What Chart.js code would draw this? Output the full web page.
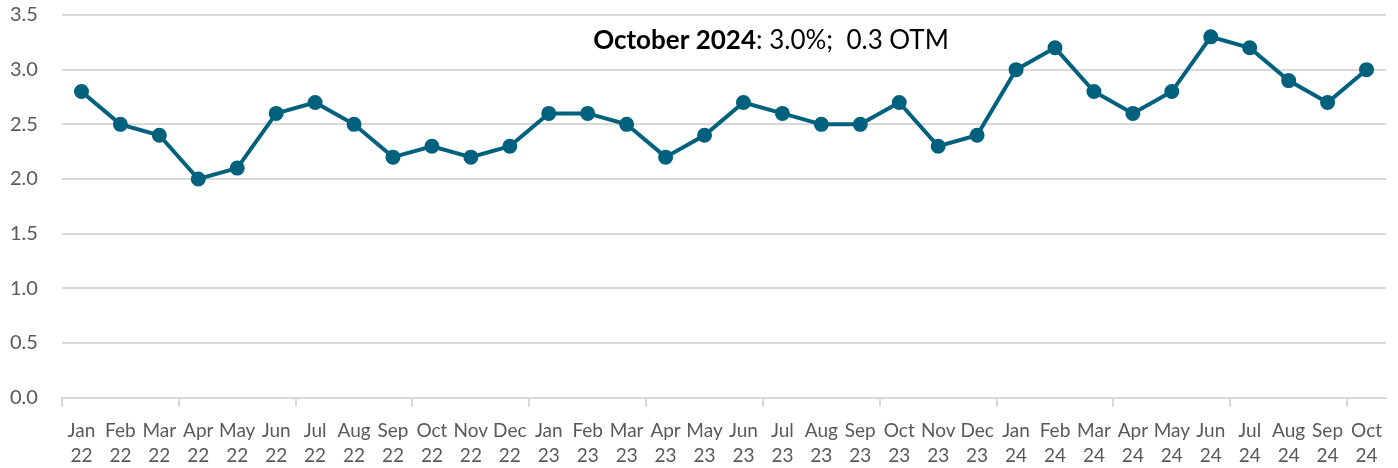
<!DOCTYPE html>
<html>
<head>
<meta charset="utf-8">
<script src="https://cdn.jsdelivr.net/npm/chart.js@4"></script>
<style>
  html, body { margin: 0; padding: 0; background: #fff; overflow: hidden; }
  #wrap { width: 1398px; height: 480px; position: relative; }
</style>
</head>
<body>
<div id="wrap"><canvas id="chart"></canvas></div>
<script>
// monthly values, Jan 2022 - Oct 2024
const months = ['Jan','Feb','Mar','Apr','May','Jun','Jul','Aug','Sep','Oct','Nov','Dec',
                'Jan','Feb','Mar','Apr','May','Jun','Jul','Aug','Sep','Oct','Nov','Dec',
                'Jan','Feb','Mar','Apr','May','Jun','Jul','Aug','Sep','Oct'];
const years = ['22','22','22','22','22','22','22','22','22','22','22','22',
               '23','23','23','23','23','23','23','23','23','23','23','23',
               '24','24','24','24','24','24','24','24','24','24'];
const rates = [2.8, 2.5, 2.4, 2.0, 2.1, 2.6, 2.7, 2.5, 2.2, 2.3, 2.2, 2.3,
               2.6, 2.6, 2.5, 2.2, 2.4, 2.7, 2.6, 2.5, 2.5, 2.7, 2.3, 2.4,
               3.0, 3.2, 2.8, 2.6, 2.8, 3.3, 3.2, 2.9, 2.7, 3.0];
const noteBold = 'October 2024';
const noteRest = ': 3.0%;  0.3 OTM';

const labels = months.map((m, i) => [m, years[i]]);

// annotation text at top of the plot
const notePlugin = {
  id: 'note',
  afterDraw(chart) {
    const ctx = chart.ctx;
    ctx.save();
    ctx.textBaseline = 'middle';
    ctx.fillStyle = '#000';
    ctx.font = 'bold 26px Lato';
    const w1 = ctx.measureText(noteBold).width;
    ctx.font = '26px Lato';
    const w2 = ctx.measureText(noteRest).width;
    const x0 = 771 - (w1 + w2) / 2;
    ctx.font = 'bold 26px Lato';
    ctx.fillText(noteBold, x0, 41);
    ctx.font = '26px Lato';
    ctx.fillText(noteRest, x0 + w1, 41);
    ctx.restore();
  }
};

new Chart(document.getElementById('chart'), {
  type: 'line',
  data: {
    labels: labels,
    datasets: [{
      data: rates,
      borderColor: '#00617f',
      backgroundColor: '#00617f',
      borderWidth: 4,
      pointRadius: 5.5,
      pointHoverRadius: 5.5,
      tension: 0
    }]
  },
  options: {
    responsive: true,
    maintainAspectRatio: false,
    animation: false,
    layout: { padding: { top: 15, right: 12, left: 10, bottom: 0 } },
    plugins: {
      legend: { display: false },
      tooltip: { enabled: false }
    },
    scales: {
      x: {
        offset: true,
        grid: {
          offset: true,
          drawOnChartArea: false,
          drawTicks: true,
          tickLength: 9,
          color: ctx => (ctx.index % 3 === 0 ? '#d9d9d9' : 'rgba(0,0,0,0)'),
          lineWidth: 2
        },
        border: { color: '#d9d9d9', width: 2 },
        ticks: {
          autoSkip: false,
          maxRotation: 0,
          color: '#595959',
          font: { family: 'Lato', size: 19, lineHeight: 1.35 },
          padding: 11
        }
      },
      y: {
        min: 0,
        max: 3.5,
        ticks: {
          stepSize: 0.5,
          color: '#595959',
          font: { family: 'Lato', size: 20 },
          padding: 0,
          crossAlign: 'far',
          callback: v => v.toFixed(1)
        },
        grid: { color: '#d9d9d9', lineWidth: 2, drawTicks: false },
        border: { display: false },
        afterFit: scale => { scale.width = 52; }
      }
    }
  },
  plugins: [notePlugin]
});
</script>
</body>
</html>
